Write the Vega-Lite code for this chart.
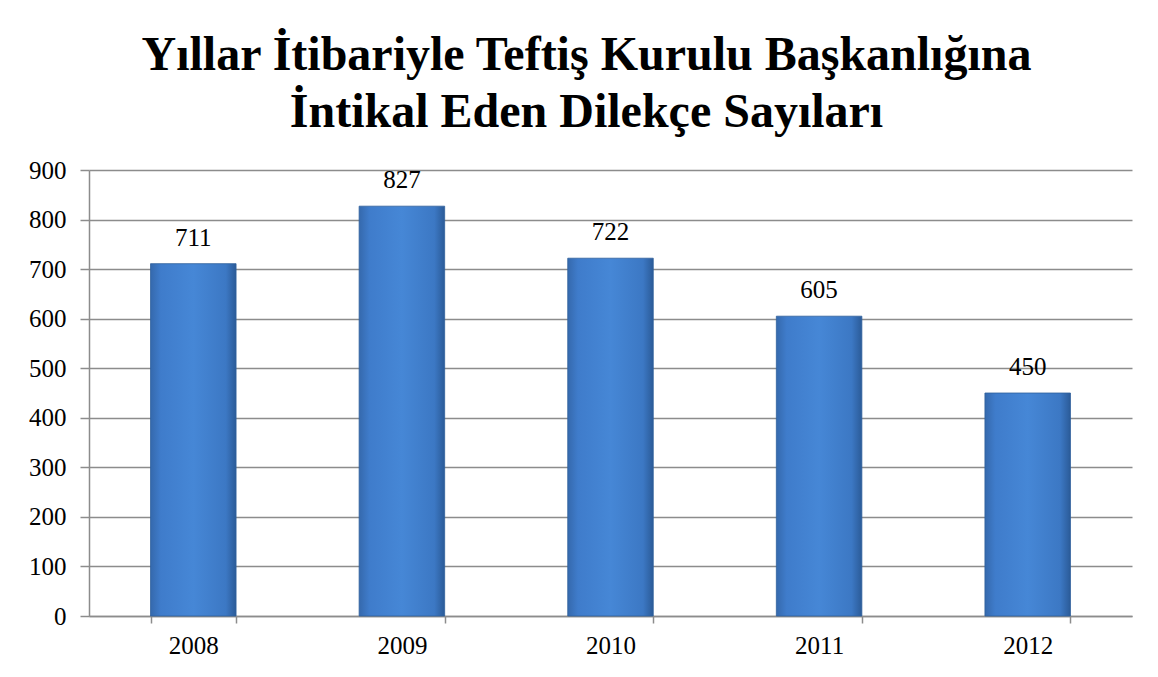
{
  "$schema": "https://vega.github.io/schema/vega-lite/v6.json",
  "width": 1043,
  "height": 446,
  "autosize": {"type": "none"},
  "padding": {"left": 89, "top": 170, "right": 26, "bottom": 61},
  "background": "white",
  "title": {
    "text": ["Yıllar İtibariyle Teftiş Kurulu Başkanlığına", "İntikal Eden Dilekçe Sayıları"],
    "font": "Liberation Serif",
    "fontSize": 48,
    "fontWeight": "bold",
    "color": "black",
    "lineHeight": 57,
    "anchor": "middle",
    "frame": "group",
    "dx": -24,
    "offset": -17,
    "baseline": "alphabetic"
  },
  "data": {
    "values": [
      {"year": "2008", "count": 711},
      {"year": "2009", "count": 827},
      {"year": "2010", "count": 722},
      {"year": "2011", "count": 605},
      {"year": "2012", "count": 450}
    ]
  },
  "encoding": {
    "x": {
      "field": "year",
      "type": "ordinal",
      "scale": {"paddingInner": 0.59, "paddingOuter": 0.295},
      "axis": {
        "title": null,
        "labelAngle": 0,
        "labelFont": "Liberation Serif",
        "labelFontSize": 25,
        "labelColor": "black",
        "labelPadding": 10,
        "domainColor": "#8c8c8c",
        "domainWidth": 1.5,
        "tickColor": "#8c8c8c",
        "tickWidth": 1.5,
        "tickSize": 7,
        "tickBand": "extent",
        "grid": false
      }
    },
    "y": {
      "field": "count",
      "type": "quantitative",
      "scale": {"domain": [0, 900]},
      "axis": {
        "title": null,
        "values": [0, 100, 200, 300, 400, 500, 600, 700, 800, 900],
        "labelFont": "Liberation Serif",
        "labelFontSize": 25,
        "labelColor": "black",
        "labelPadding": 14,
        "domainColor": "#8c8c8c",
        "domainWidth": 1.5,
        "tickColor": "#8c8c8c",
        "tickWidth": 1.5,
        "tickSize": 9,
        "grid": true,
        "gridColor": "#8c8c8c",
        "gridWidth": 1.5
      }
    }
  },
  "layer": [
    {
      "mark": {
        "type": "bar",
        "stroke": "#2f5f9c",
        "strokeWidth": 0.8,
        "color": {
          "gradient": "linear",
          "x1": 0, "y1": 0, "x2": 1, "y2": 0,
          "stops": [
            {"offset": 0, "color": "#3569ad"},
            {"offset": 0.12, "color": "#3f7ccb"},
            {"offset": 0.5, "color": "#4687d6"},
            {"offset": 0.88, "color": "#3c78c4"},
            {"offset": 1, "color": "#2b5b98"}
          ]
        }
      }
    },
    {
      "mark": {
        "type": "text",
        "font": "Liberation Serif",
        "fontSize": 25,
        "color": "black",
        "baseline": "alphabetic",
        "dy": -18
      },
      "encoding": {"text": {"field": "count", "type": "quantitative"}}
    }
  ],
  "config": {"view": {"stroke": null}}
}
